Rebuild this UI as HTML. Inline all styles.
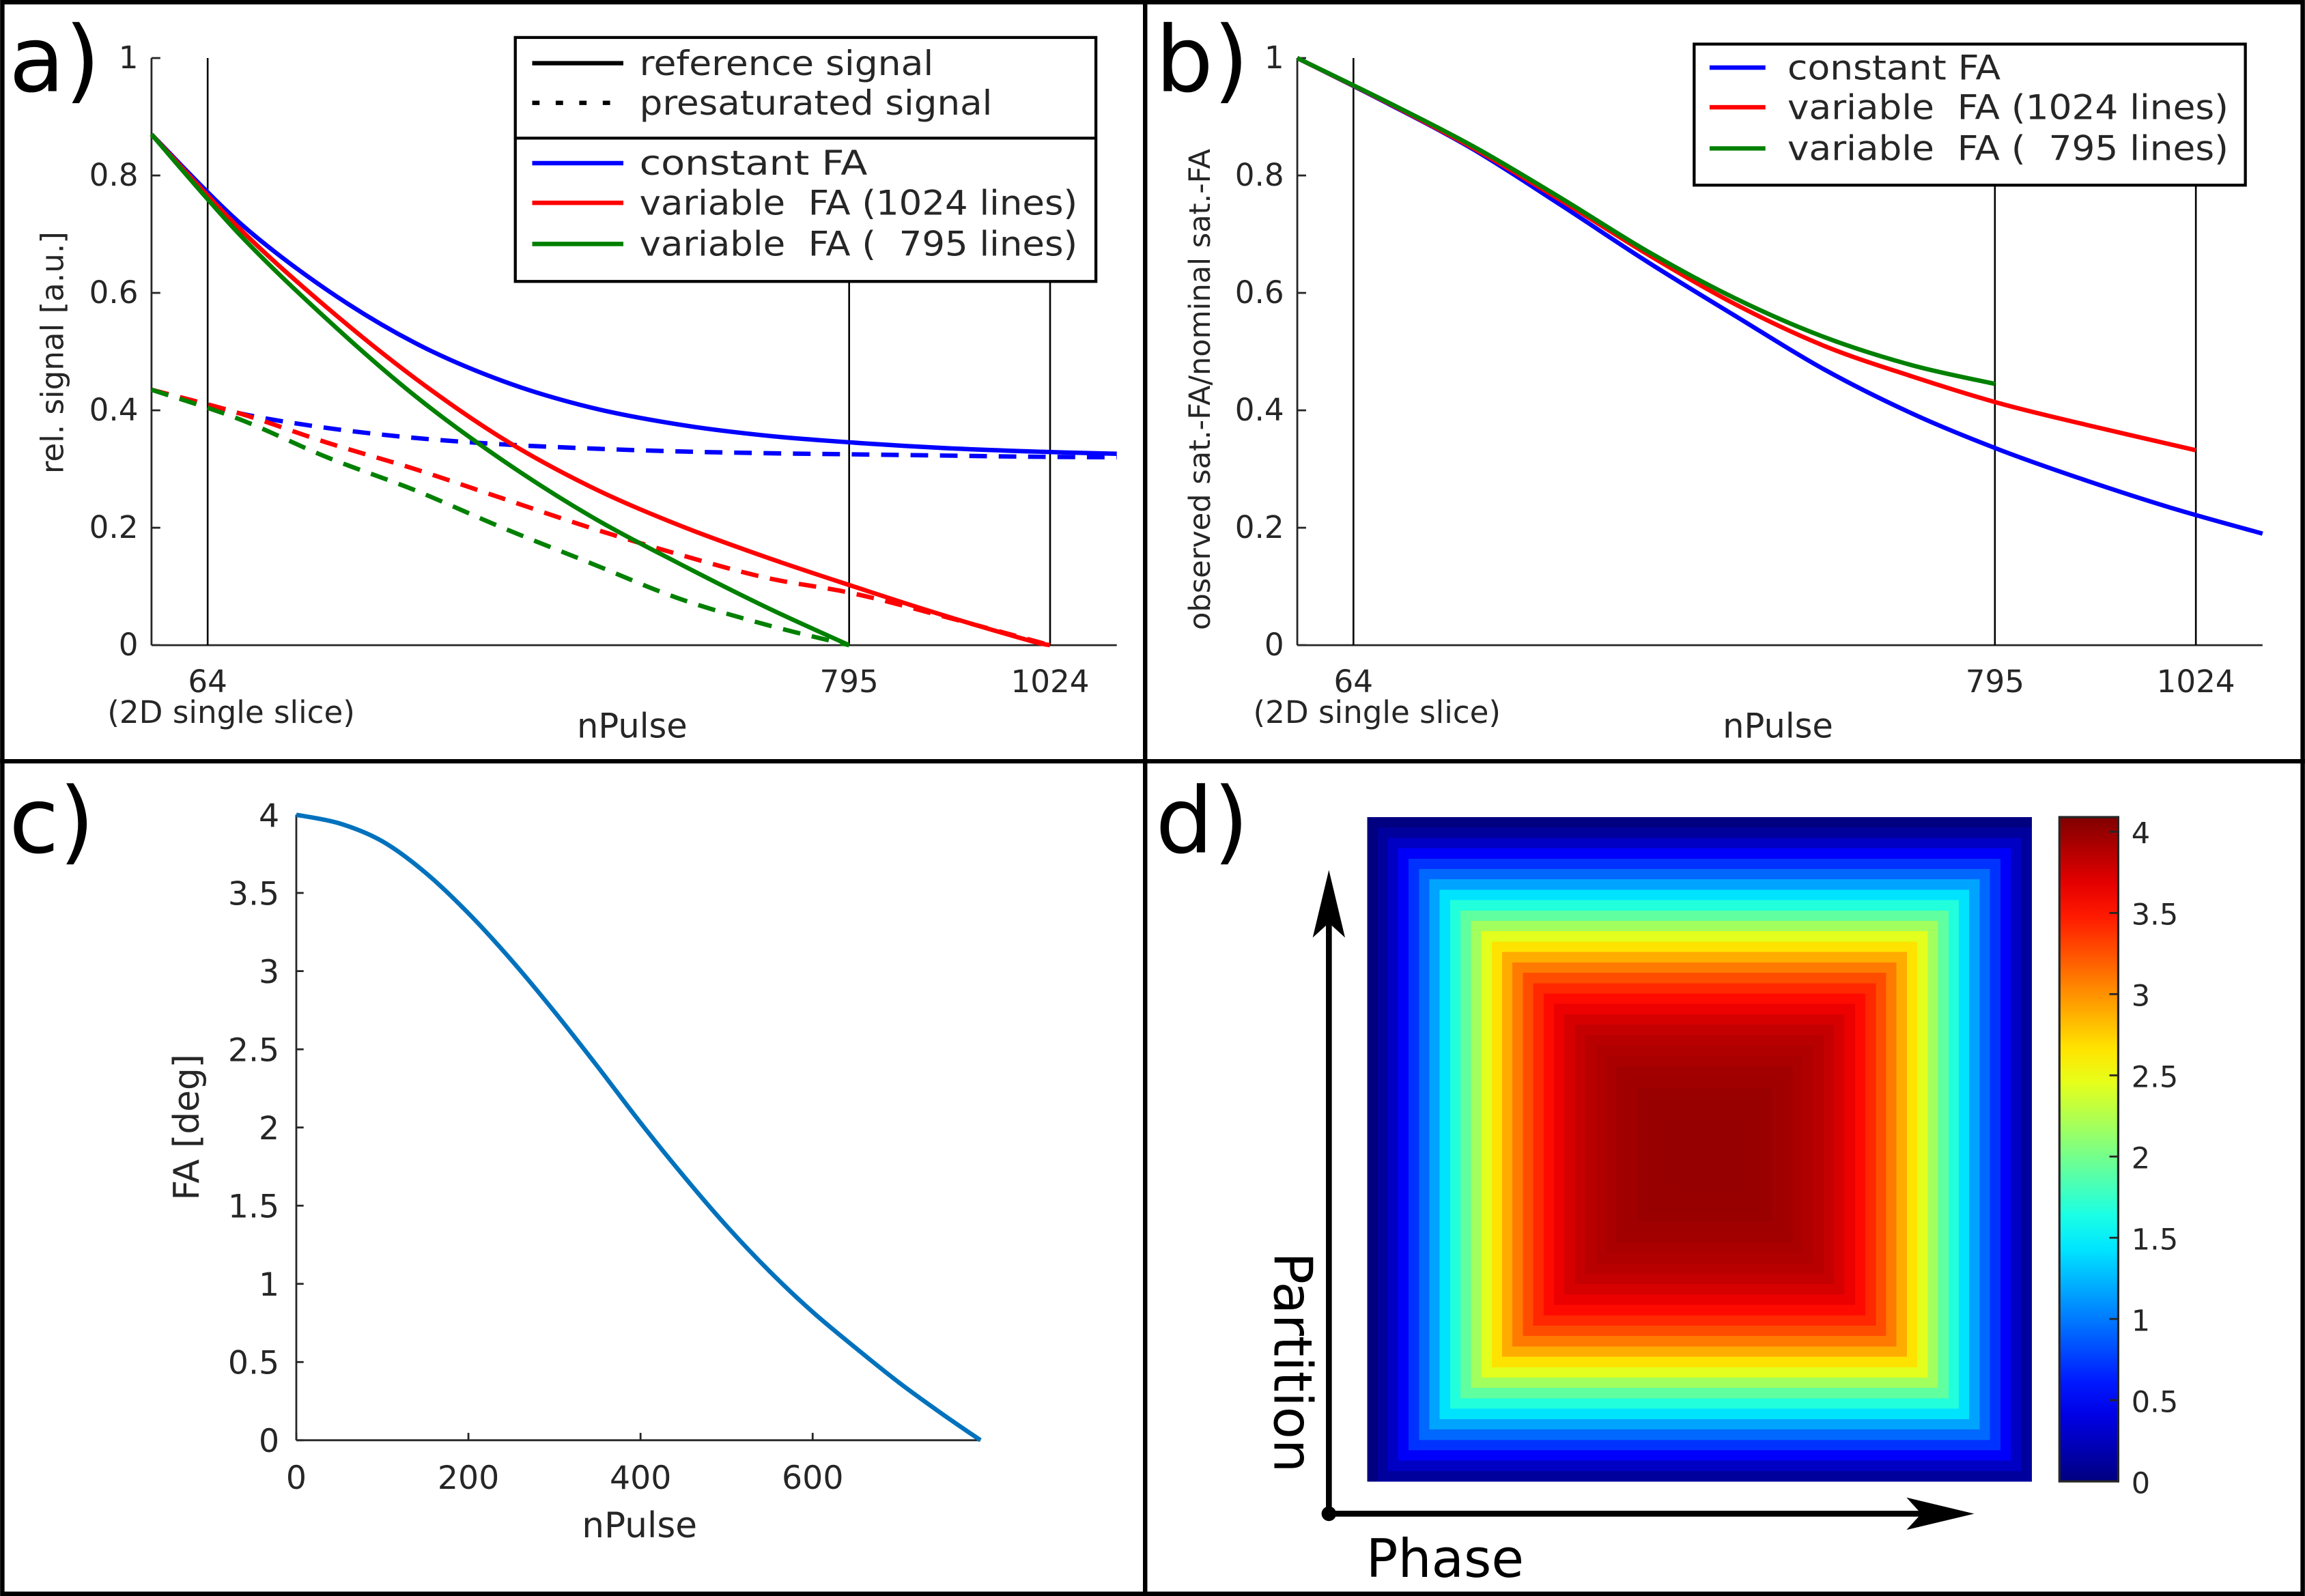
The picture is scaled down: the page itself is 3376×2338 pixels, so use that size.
<!DOCTYPE html>
<html><head><meta charset="utf-8"><style>
html,body{margin:0;padding:0;background:#fff}
svg{display:block}
text{font-family:"DejaVu Sans","Liberation Sans",sans-serif;fill:#262626;white-space:pre}
</style></head><body>
<svg id="fig" xmlns="http://www.w3.org/2000/svg" width="3376" height="2338" viewBox="0 0 1568 1086">
<rect x="0" y="0" width="1568" height="1086" fill="#fff"/>
<g id="pa"></g>
<g id="pb"></g>
<g id="pc"></g>
<g id="pd"></g>
<g stroke="#000" stroke-width="3" fill="none">
<rect x="1.5" y="1.5" width="1565" height="1083"/>
<line x1="779" y1="0" x2="779" y2="1086"/>
<line x1="0" y1="518" x2="1568" y2="518"/>
</g>
<text x="6" y="62" font-size="62" style="fill:#000">a)</text>
<text x="786" y="62" font-size="62" style="fill:#000">b)</text>
<text x="6" y="580" font-size="62" style="fill:#000">c)</text>
<text x="786" y="580" font-size="62" style="fill:#000">d)</text>
</svg>
<script>
// ---- panel a data ----
const aPulseBlue = [0,100,200,300,400,500,600,700,800,900,1000,1100];
const aSolidBlue = [0.87,0.72,0.605,0.515,0.45,0.405,0.376,0.357,0.345,0.336,0.33,0.326];
const aPulseRed = [0,100,200,300,400,500,600,700,800,900,1000,1024];
const aSolidRed = [0.87,0.71,0.575,0.455,0.352,0.27,0.205,0.15,0.10,0.052,0.008,0];
const aPulseGreen = [0,100,200,300,400,500,600,700,795];
const aSolidGreen = [0.87,0.70,0.555,0.425,0.315,0.22,0.14,0.065,0];
const aDashPulseBlue = [0,100,200,300,400,500,600,700,800,900,1000,1100];
const aDashBlue = [0.435,0.395,0.37,0.353,0.342,0.335,0.33,0.327,0.325,0.323,0.321,0.32];
const aDashPulseRed = [0,100,200,300,400,500,600,700,800,900,1024];
const aDashRed = [0.435,0.395,0.345,0.30,0.25,0.20,0.155,0.115,0.088,0.05,0];
const aDashPulseGreen = [0,100,200,300,400,500,600,700,795];
const aDashGreen = [0.435,0.385,0.32,0.264,0.20,0.14,0.08,0.035,0];
const aYTicks = [0,0.2,0.4,0.6,0.8,1];
const aYTickLabels = ["0","0.2","0.4","0.6","0.8","1"];
const xMarks = [64,795,1024];
const xMarkLabels = ["64","795","1024"];
// ---- panel b data ----
const bPulseBlue = [0,100,200,300,400,500,600,700,800,900,1000,1100];
const bBlue = [1.0,0.925,0.845,0.75,0.652,0.56,0.47,0.395,0.333,0.28,0.232,0.19];
const bPulseRed = [0,100,200,300,400,500,600,700,800,900,1024];
const bRed = [1.0,0.926,0.847,0.758,0.665,0.58,0.51,0.458,0.412,0.375,0.332];
const bPulseGreen = [0,100,200,300,400,500,600,700,795];
const bGreen = [1.0,0.927,0.85,0.762,0.67,0.59,0.525,0.477,0.445];
// ---- panel c data ----
const cPulse = [0,50,100,150,200,250,300,350,400,450,500,550,600,650,700,750,795];
const cFA = [4.0,3.945,3.83,3.63,3.37,3.07,2.74,2.39,2.03,1.69,1.37,1.08,0.82,0.59,0.37,0.17,0];
const cXTicks = [0,200,400,600];
const cYTicks = [0,0.5,1,1.5,2,2.5,3,3.5,4];
const cYTickLabels = ["0","0.5","1","1.5","2","2.5","3","3.5","4"];
// ---- panel d data: FA per square ring (ring 0 = centre) ----
const ringFA = [4.0,4.0,4.0,4.0,3.99,3.99,3.98,3.96,3.95,3.92,3.89,3.86,3.81,3.74,3.65,3.54,3.42,3.27,3.09,2.89,2.67,2.44,2.18,1.92,1.67,1.42,1.17,0.93,0.71,0.49,0.28,0.12,0];
const cbTicks = [0,0.5,1,1.5,2,2.5,3,3.5,4];
const cbTickLabels = ["0","0.5","1","1.5","2","2.5","3","3.5","4"];

const NS = "http://www.w3.org/2000/svg";
function mk(parent, tag, attrs, txt){
  const e = document.createElementNS(NS, tag);
  for (const k in attrs) e.setAttribute(k, attrs[k]);
  if (txt !== undefined) e.textContent = txt;
  parent.appendChild(e); return e;
}
function smoothPath(pts){
  let d = "M" + pts[0][0].toFixed(2) + "," + pts[0][1].toFixed(2);
  for (let i = 0; i < pts.length - 1; i++){
    const p0 = pts[Math.max(0,i-1)], p1 = pts[i], p2 = pts[i+1], p3 = pts[Math.min(pts.length-1,i+2)];
    const c1x = p1[0] + (p2[0]-p0[0])/6, c1y = p1[1] + (p2[1]-p0[1])/6;
    const c2x = p2[0] - (p3[0]-p1[0])/6, c2y = p2[1] - (p3[1]-p1[1])/6;
    d += " C" + c1x.toFixed(2)+","+c1y.toFixed(2)+" "+c2x.toFixed(2)+","+c2y.toFixed(2)+" "+p2[0].toFixed(2)+","+p2[1].toFixed(2);
  }
  return d;
}
const AX = "#262626";

function signalPanel(g, x0, series){
  const axX = n => x0 + n*0.597;
  const axY = v => 439 - v*399.5;
  const xEnd = axX(1100);
  let el;
  el = mk(g, "line", {x1:axX(0), y1:axY(0), x2:xEnd, y2:axY(0), stroke:AX, "stroke-width":1.3});
  
  
  el = mk(g, "line", {x1:axX(0), y1:axY(0), x2:axX(0), y2:axY(1), stroke:AX, "stroke-width":1.3});
  
  
  aYTicks.forEach((t,i) => {
    let tk = mk(g, "line", {x1:axX(0), y1:axY(t), x2:axX(0)+6, y2:axY(t), stroke:AX, "stroke-width":1.3});
    
    
    let tl = mk(g, "text", {x:axX(0)-9, y:axY(t)+7, "font-size":21, "text-anchor":"end"}, aYTickLabels[i]);
    
    
  });
  xMarks.forEach((m,i) => {
    let vl = mk(g, "line", {x1:axX(m), y1:axY(0), x2:axX(m), y2:axY(1), stroke:"#000", "stroke-width":1.2});
    
    
    let tl = mk(g, "text", {x:axX(m), y:471, "font-size":21, "text-anchor":"middle"}, xMarkLabels[i]);
    
    
  });
  let sl = mk(g, "text", {x:axX(64)+16, y:492, "font-size":21, "text-anchor":"middle"}, "(2D single slice)");
  
  
  let xl = mk(g, "text", {x:x0+327, y:502, "font-size":23, "text-anchor":"middle"}, "nPulse");
  
  
  series.forEach(s => {
    const pts = s.x.map((n,i) => [axX(n), axY(s.y[i])]);
    let p = mk(g, "path", {d:smoothPath(pts), fill:"none", stroke:s.c, "stroke-width":3, "stroke-dasharray":s.dash?"12 8":"none"});
    
    
  });
}

// Panel A
const ga = document.getElementById("pa");
signalPanel(ga, 103, [
  {x:aDashPulseBlue, y:aDashBlue, c:"#0000ff", dash:true, name:"presat-constant-fa-line"},
  {x:aDashPulseRed, y:aDashRed, c:"#ff0000", dash:true, name:"presat-variable-1024-line"},
  {x:aDashPulseGreen, y:aDashGreen, c:"#008000", dash:true, name:"presat-variable-795-line"},
  {x:aPulseBlue, y:aSolidBlue, c:"#0000ff", dash:false, name:"ref-constant-fa-line"},
  {x:aPulseRed, y:aSolidRed, c:"#ff0000", dash:false, name:"ref-variable-1024-line"},
  {x:aPulseGreen, y:aSolidGreen, c:"#008000", dash:false, name:"ref-variable-795-line"}
]);
let yt = mk(ga, "text", {x:0, y:0, "font-size":21, "text-anchor":"middle", transform:"translate(43,240) rotate(-90)"}, "rel. signal [a.u.]");


const la = mk(ga, "g", {});


mk(la, "rect", {x:350.5, y:25.5, width:395, height:166, fill:"#fff", stroke:"#000", "stroke-width":2});
mk(la, "line", {x1:350.5, y1:94, x2:745.5, y2:94, stroke:"#000", "stroke-width":2});
const laEntries = [
  {t:"reference signal", c:"#000", dash:false, y:43, w:200},
  {t:"presaturated signal", c:"#000", dash:true, y:70, w:240},
  {t:"constant FA", c:"#0000ff", dash:false, y:111, w:155},
  {t:"variable  FA (1024 lines)", c:"#ff0000", dash:false, y:138, w:298},
  {t:"variable  FA (  795 lines)", c:"#008000", dash:false, y:166, w:298}
];
laEntries.forEach(e => {
  let l = mk(la, "line", {x1:362, y1:e.y, x2:424, y2:e.y, stroke:e.c, "stroke-width":3, "stroke-dasharray":e.dash?"5 11":"none"});
  
  
  let t = mk(la, "text", {x:435, y:e.y+8, "font-size":23, textLength:e.w, lengthAdjust:"spacingAndGlyphs"}, e.t);
  
  
});

// Panel B
const gb = document.getElementById("pb");
signalPanel(gb, 882.5, [
  {x:bPulseBlue, y:bBlue, c:"#0000ff", dash:false, name:"constant-fa-line"},
  {x:bPulseRed, y:bRed, c:"#ff0000", dash:false, name:"variable-1024-line"},
  {x:bPulseGreen, y:bGreen, c:"#008000", dash:false, name:"variable-795-line"}
]);
let ytb = mk(gb, "text", {x:0, y:0, "font-size":20, "text-anchor":"middle", transform:"translate(823,265) rotate(-90)"}, "observed sat.-FA/nominal sat.-FA");


const lb = mk(gb, "g", {});


mk(lb, "rect", {x:1152.5, y:30, width:375, height:96, fill:"#fff", stroke:"#000", "stroke-width":2});
[{t:"constant FA", c:"#0000ff", y:46, w:145},{t:"variable  FA (1024 lines)", c:"#ff0000", y:73, w:300},{t:"variable  FA (  795 lines)", c:"#008000", y:101, w:300}].forEach(e => {
  let l = mk(lb, "line", {x1:1163, y1:e.y, x2:1201, y2:e.y, stroke:e.c, "stroke-width":3});
  
  
  let t = mk(lb, "text", {x:1216, y:e.y+8, "font-size":23, textLength:e.w, lengthAdjust:"spacingAndGlyphs"}, e.t);
  
  
});

// Panel C
const gc = document.getElementById("pc");
const cx = n => 201.5 + n*0.5855;
const cy = v => 980 - v*106.4;
let e1 = mk(gc, "line", {x1:cx(0), y1:cy(0), x2:cx(795), y2:cy(0), stroke:AX, "stroke-width":1.3});


let e2 = mk(gc, "line", {x1:cx(0), y1:cy(0), x2:cx(0), y2:cy(4), stroke:AX, "stroke-width":1.3});


cXTicks.forEach(t => {
  let tk = mk(gc, "line", {x1:cx(t), y1:cy(0), x2:cx(t), y2:cy(0)-5, stroke:AX, "stroke-width":1.3});
  
  
  let tl = mk(gc, "text", {x:cx(t), y:1013, "font-size":22, "text-anchor":"middle"}, String(t));
  
  
});
cYTicks.forEach((t,i) => {
  let tk = mk(gc, "line", {x1:cx(0), y1:cy(t), x2:cx(0)+5, y2:cy(t), stroke:AX, "stroke-width":1.3});
  
  
  let tl = mk(gc, "text", {x:190, y:cy(t)+8, "font-size":22, "text-anchor":"end"}, cYTickLabels[i]);
  
  
});
let cxl = mk(gc, "text", {x:435, y:1046, "font-size":24, "text-anchor":"middle"}, "nPulse");


let cyl = mk(gc, "text", {x:0, y:0, "font-size":24, "text-anchor":"middle", transform:"translate(135,767) rotate(-90)"}, "FA [deg]");


let cl = mk(gc, "path", {d:smoothPath(cPulse.map((n,i)=>[cx(n), cy(cFA[i])])), fill:"none", stroke:"#0072bd", "stroke-width":3});



// Panel D
function jet(v){
  const r = Math.min(Math.max(Math.min(4*v-1.5, -4*v+4.5),0),1);
  const g = Math.min(Math.max(Math.min(4*v-0.5, -4*v+3.5),0),1);
  const b = Math.min(Math.max(Math.min(4*v+0.5, -4*v+2.5),0),1);
  return "rgb("+Math.round(r*255)+","+Math.round(g*255)+","+Math.round(b*255)+")";
}
const gd = document.getElementById("pd");
const vmax = 4.09;
const N = 64, hx0 = 930, hy0 = 556, hs = 452/N;
const hm = mk(gd, "g", {"shape-rendering":"crispEdges"});


for (let i = 0; i < N; i++){
  for (let j = 0; j < N; j++){
    const k = Math.max(Math.abs(i-32), Math.abs(j-32));
    const r = mk(hm, "rect", {x:(hx0+i*hs).toFixed(3), y:(hy0+j*hs).toFixed(3), width:(hs+0.3).toFixed(3), height:(hs+0.3).toFixed(3), fill:jet(ringFA[k]/vmax)});
    
    
  }
}
const cbx = 1401, cbT = 556, cbB = 1008;
const defs = mk(gd, "defs", {});
const lg = mk(defs, "linearGradient", {id:"jetg", x1:0, y1:1, x2:0, y2:0});
for (let s = 0; s <= 20; s++){ mk(lg, "stop", {offset:(s/20), "stop-color":jet(s/20)}); }
let cb = mk(gd, "rect", {x:cbx, y:cbT, width:40, height:cbB-cbT, fill:"url(#jetg)", stroke:AX, "stroke-width":1.5});


cbTicks.forEach((t,i) => {
  const y = cbB - t/vmax*(cbB-cbT);
  let tk = mk(gd, "line", {x1:cbx+34, y1:y, x2:cbx+40, y2:y, stroke:AX, "stroke-width":1.3});
  
  
  let tl = mk(gd, "text", {x:1450, y:y+8, "font-size":20}, cbTickLabels[i]);
  
  
});
const ar = mk(gd, "g", {});


mk(ar, "line", {x1:904, y1:1030, x2:904, y2:615, stroke:"#000", "stroke-width":4});
mk(ar, "polygon", {points:"904,592 893,638 904,628 915,638", fill:"#000"});
mk(ar, "line", {x1:904, y1:1030, x2:1320, y2:1030, stroke:"#000", "stroke-width":4});
mk(ar, "polygon", {points:"1343,1030 1297,1019 1307,1030 1297,1041", fill:"#000"});
mk(ar, "circle", {cx:904, cy:1030, r:5, fill:"#000"});
let ph = mk(gd, "text", {x:983, y:1073, "font-size":36, "text-anchor":"middle", style:"fill:#000"}, "Phase");


let pt = mk(gd, "text", {x:0, y:0, "font-size":36, "text-anchor":"middle", style:"fill:#000", transform:"translate(867,927) rotate(90)"}, "Partition");


</script>
</body></html>
